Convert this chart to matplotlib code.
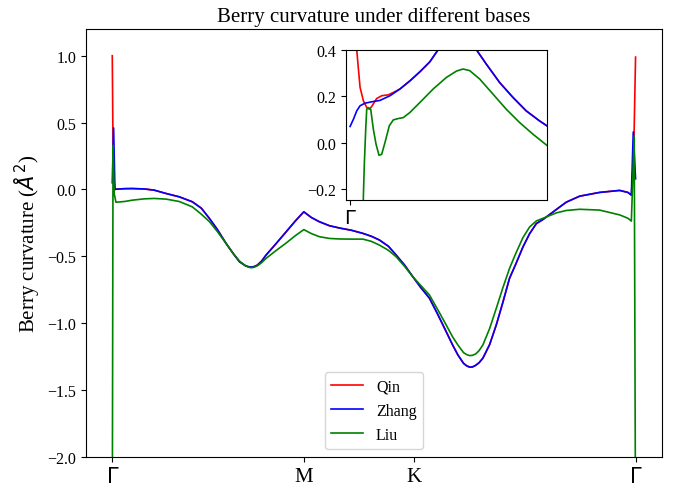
import matplotlib
matplotlib.use('Agg')
import matplotlib.pyplot as plt

plt.rcParams['font.family'] = ['Liberation Serif', 'DejaVu Serif']

# high-symmetry points along the path (k units)
tick_pos = [0.0, 1.0, 1.577, 2.732]
tick_labels = [r'$\Gamma$', 'M', 'K', r'$\Gamma$']

# smooth part of the path
k = [0.019, 0.063, 0.104, 0.167, 0.219, 0.281, 0.350, 0.418, 0.465, 0.507,
     0.549, 0.594, 0.632, 0.664, 0.695, 0.71, 0.725, 0.74, 0.758, 0.78, 0.803,
     0.852, 0.908, 0.956, 1.0, 1.040, 1.081, 1.134, 1.186, 1.249, 1.308, 1.353,
     1.395, 1.442, 1.482, 1.526, 1.569, 1.609, 1.656, 1.698, 1.743, 1.776, 1.804,
     1.834, 1.85, 1.865, 1.88, 1.897, 1.915, 1.935, 1.970, 2.005, 2.038, 2.074,
     2.106, 2.144, 2.179, 2.214, 2.248, 2.318, 2.370, 2.440, 2.544, 2.649, 2.692,
     2.710]

zhang = [0.002, 0.006, 0.007, 0.004, -0.005, -0.03, -0.055, -0.092, -0.14, -0.216,
         -0.30, -0.403, -0.48, -0.54, -0.57, -0.577, -0.58, -0.577, -0.565, -0.535, -0.49,
         -0.41, -0.316, -0.235, -0.167, -0.21, -0.241, -0.271, -0.288, -0.305, -0.328, -0.35,
         -0.378, -0.425, -0.49, -0.565, -0.652, -0.73, -0.813, -0.93, -1.062, -1.16, -1.236,
         -1.30, -1.318, -1.328, -1.327, -1.315, -1.295, -1.261, -1.16, -1.012, -0.85, -0.664,
         -0.56, -0.43, -0.33, -0.255, -0.225, -0.15, -0.095, -0.05, -0.022, -0.007, -0.022,
         -0.042]

liu = [-0.095, -0.09, -0.08, -0.07, -0.067, -0.072, -0.09, -0.13, -0.185, -0.24,
       -0.315, -0.403, -0.48, -0.535, -0.57, -0.58, -0.585, -0.582, -0.57, -0.547, -0.515,
       -0.46, -0.40, -0.345, -0.30, -0.33, -0.353, -0.366, -0.37, -0.371, -0.371, -0.388,
       -0.416, -0.455, -0.503, -0.575, -0.652, -0.715, -0.789, -0.895, -1.012, -1.10, -1.162,
       -1.22, -1.234, -1.242, -1.240, -1.23, -1.205, -1.162, -1.04, -0.888, -0.74, -0.59,
       -0.48, -0.36, -0.28, -0.235, -0.216, -0.175, -0.157, -0.148, -0.154, -0.19, -0.215,
       -0.236]

# spikes at Gamma (start / end of path)
zhang_k_head, zhang_head = [0.0, 0.007, 0.014], [0.05, 0.46, 0.0]
zhang_k_tail, zhang_tail = [2.720, 2.732], [0.43, 0.08]
qin_k_head, qin_head = [0.0, 0.005, 0.014], [1.0, 0.12, 0.0]
qin_k_tail, qin_tail = [2.722, 2.732], [0.25, 0.99]
liu_k_head, liu_head = [0.0, 0.004, 0.010], [-2.6, 0.33, -0.03]
liu_k_tail, liu_tail = [2.725, 2.732], [0.40, -2.6]

# inset: close-up next to Gamma
ins_k_zhang = [0.0, 0.0005, 0.001, 0.0015, 0.00225, 0.00325, 0.0045, 0.006, 0.0075,
               0.009, 0.0105, 0.012, 0.01325, 0.0145, 0.0161, 0.01775, 0.019, 0.0205,
               0.0225, 0.0245, 0.0265, 0.0285, 0.0296]
ins_zhang = [0.070, 0.101, 0.137, 0.159, 0.170, 0.176, 0.182, 0.202, 0.231,
             0.266, 0.305, 0.348, 0.40, 0.43, 0.455, 0.435, 0.40, 0.338,
             0.259, 0.195, 0.137, 0.094, 0.073]
ins_k_qin_head = [0.0, 0.0005, 0.001, 0.00125, 0.0015, 0.002, 0.0025, 0.0029,
                  0.00325, 0.004, 0.00475, 0.00575, 0.0065]
ins_qin_head = [1.0, 0.6, 0.40, 0.317, 0.238, 0.180, 0.152, 0.144,
                0.156, 0.190, 0.202, 0.206, 0.216]
ins_k_liu = [0.0018, 0.002, 0.00215, 0.00235, 0.0025, 0.00275, 0.0031, 0.0035, 0.0039,
             0.00435, 0.00475, 0.00525, 0.0059, 0.0065, 0.00725, 0.008, 0.009, 0.0105,
             0.0125, 0.0145, 0.016, 0.017, 0.018, 0.0195, 0.0215, 0.0235, 0.0255,
             0.0275, 0.0296]
ins_liu = [-0.6, -0.229, -0.085, 0.058, 0.144, 0.151, 0.144, 0.058, -0.006,
           -0.054, -0.050, 0.001, 0.073, 0.098, 0.104, 0.108, 0.130, 0.173,
           0.231, 0.281, 0.308, 0.317, 0.310, 0.274, 0.209, 0.144, 0.087,
           0.037, -0.011]

# full series
k_zhang = zhang_k_head + k + zhang_k_tail
y_zhang = zhang_head + zhang + zhang_tail
k_qin = qin_k_head + k + qin_k_tail
y_qin = qin_head + zhang + qin_tail  # Qin lies under Zhang away from Gamma
k_liu = liu_k_head + k + liu_k_tail
y_liu = liu_head + liu + liu_tail

ins_k_qin = ins_k_qin_head + ins_k_zhang[8:]
ins_qin = ins_qin_head + ins_zhang[8:]

fig = plt.figure(figsize=(6.78, 4.89), dpi=100)
ax = fig.add_axes([0.127, 0.0634, 0.849, 0.8753])

lw = 1.2
ax.plot(k_qin, y_qin, color='red', lw=lw, label='Qin')
ax.plot(k_zhang, y_zhang, color='blue', lw=lw, label='Zhang')
ax.plot(k_liu, y_liu, color='green', lw=lw, label='Liu')

ax.set_ylim(-2.0, 1.2)
ax.set_xticks(tick_pos)
ax.set_xticklabels(tick_labels, fontsize=15)
ax.tick_params(axis='y', labelsize=11.5)
ax.set_ylabel(r'Berry curvature ($Å^2$)', fontsize=15)
ax.set_title('Berry curvature under different bases', fontsize=15)
ax.legend(loc='lower center', fontsize=11.5)

axins = fig.add_axes([0.510, 0.5896, 0.2965, 0.3067])
axins.plot(ins_k_qin, ins_qin, color='red', lw=lw)
axins.plot(ins_k_zhang, ins_zhang, color='blue', lw=lw)
axins.plot(ins_k_liu, ins_liu, color='green', lw=lw)
axins.set_xlim(-0.00065, 0.0296)
axins.set_ylim(-0.245, 0.4)
axins.set_xticks([0.0])
axins.set_xticklabels([r'$\Gamma$'], fontsize=14)
axins.set_yticks([-0.2, 0.0, 0.2, 0.4])
axins.tick_params(axis='y', labelsize=11.5)

fig.savefig('out.png', dpi=100)
